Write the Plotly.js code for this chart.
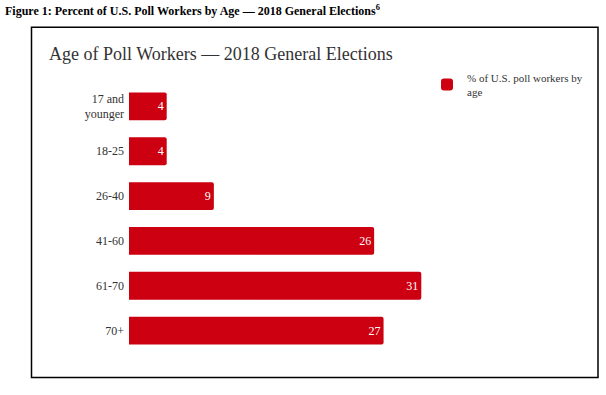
<!DOCTYPE html>
<html>
<head>
<meta charset="utf-8">
<script src="https://cdn.plot.ly/plotly-3.0.1.min.js"></script>
<style>
html,body{margin:0;padding:0;background:#fff;}
#chart{width:606px;height:395px;}
</style>
</head>
<body>
<div id="chart"></div>
<script>
var categories = ["17 and<br>younger", "18-25", "26-40", "41-60", "61-70", "70+"];
var values = [4, 4, 9, 26, 31, 27];
var seriesName = "% of U.S. poll workers by<br>age";
var chartTitle = "Age of Poll Workers — 2018 General Elections";
var figureCaption = "Figure 1: Percent of U.S. Poll Workers by Age — 2018 General Elections<sup>6</sup>";

var W = 606, H = 395;
var M = {l: 129, r: 147, t: 83.5, b: 41.5, autoexpand: false};
var pw = W - M.l - M.r, ph = H - M.t - M.b;
function px(x){ return (x - M.l) / pw; }
function py(y){ return (H - M.b - y) / ph; }

var serif = "Liberation Serif, Times New Roman, serif";

var trace = {
  type: "bar",
  orientation: "h",
  y: categories,
  x: values,
  name: seriesName,
  showlegend: true,
  marker: {color: "#cc0010", cornerradius: 2},
  text: values.map(String),
  textposition: "inside",
  insidetextanchor: "end",
  textfont: {family: serif, size: 12, color: "#ffffff"},
  hoverinfo: "x+y"
};

var layout = {
  width: W, height: H,
  margin: M,
  paper_bgcolor: "#ffffff",
  plot_bgcolor: "#ffffff",
  bargap: 0.378,
  font: {family: serif, color: "#333333"},
  title: {
    text: chartTitle,
    font: {family: serif, size: 18, color: "#333333"},
    xref: "container", yref: "container",
    x: 49 / W, xanchor: "left",
    y: 1 - 54 / H, yanchor: "middle"
  },
  xaxis: {
    range: [0, 35],
    showgrid: false, zeroline: false, showline: false,
    showticklabels: false, ticks: "", fixedrange: true
  },
  yaxis: {
    autorange: "reversed",
    showgrid: false, zeroline: false, showline: false,
    ticks: "", ticklabelstandoff: 4,
    tickfont: {family: serif, size: 12, color: "#333333"},
    fixedrange: true
  },
  legend: {
    x: px(427), y: py(63), xanchor: "left", yanchor: "top",
    font: {family: serif, size: 11, color: "#333333"},
    bgcolor: "rgba(0,0,0,0)"
  },
  shapes: [{
    type: "rect", xref: "paper", yref: "paper",
    x0: px(31.5), x1: px(598), y0: py(378), y1: py(26.5),
    line: {color: "#000000", width: 1.5},
    fillcolor: "rgba(0,0,0,0)"
  }],
  annotations: [{
    text: "<b>" + figureCaption + "</b>",
    xref: "paper", yref: "paper",
    x: px(3), y: py(10), xanchor: "left", yanchor: "middle",
    showarrow: false,
    font: {family: serif, size: 12, color: "#000000"}
  }]
};

Plotly.newPlot("chart", [trace], layout, {displayModeBar: false, staticPlot: true});
</script>
</body>
</html>
